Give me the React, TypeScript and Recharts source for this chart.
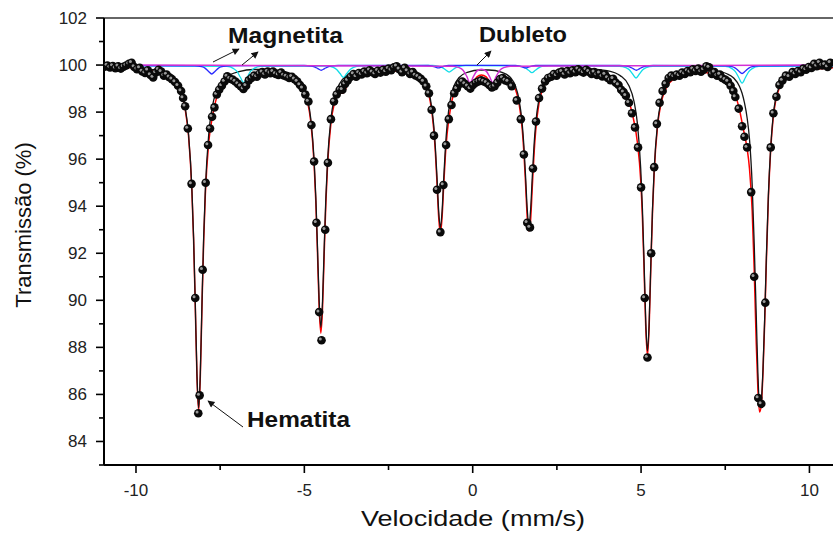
import React from 'react';
import { ComposedChart, Line, Scatter, XAxis, YAxis, ReferenceLine } from 'recharts';

const velocityDomain: [number, number] = [-10.95, 10.7];
const transmissionDomain: [number, number] = [83, 102];
const velocityTicks = [-10, -7.5, -5, -2.5, 0, 2.5, 5, 7.5, 10];
const transmissionTicks = [83, 84, 85, 86, 87, 88, 89, 90, 91, 92, 93, 94, 95, 96, 97, 98, 99, 100, 101, 102];

// experimental points [velocity mm/s, transmission %]
const measured: [number, number][] = [
  [-10.93, 99.93], [-10.85, 99.98], [-10.77, 99.9], [-10.69, 99.96], [-10.61, 99.87], [-10.53, 99.95],
  [-10.45, 99.85], [-10.37, 99.93], [-10.29, 99.98], [-10.21, 100.05], [-10.13, 100.1], [-10.05, 99.92],
  [-9.97, 99.82], [-9.89, 99.88], [-9.81, 99.73], [-9.73, 99.66], [-9.65, 99.78], [-9.57, 99.58],
  [-9.49, 99.47], [-9.41, 99.68], [-9.33, 99.8], [-9.25, 99.72], [-9.17, 99.55], [-9.09, 99.6],
  [-9.01, 99.48], [-8.93, 99.4], [-8.84, 99.28], [-8.75, 99.12], [-8.66, 98.9], [-8.6, 98.6],
  [-8.54, 98.25], [-8.46, 97.3], [-8.35, 94.95], [-8.24, 90.1], [-8.15, 85.2], [-8.11, 85.96],
  [-8.02, 91.3], [-7.93, 95.0], [-7.86, 96.6], [-7.8, 97.3], [-7.74, 97.8], [-7.67, 98.2],
  [-7.6, 98.75], [-7.53, 98.95], [-7.45, 99.12], [-7.37, 99.3], [-7.29, 99.52], [-7.21, 99.42],
  [-7.13, 99.38], [-7.05, 99.3], [-6.97, 99.2], [-6.89, 99.1], [-6.81, 98.98], [-6.73, 99.12],
  [-6.65, 99.35], [-6.57, 99.45], [-6.49, 99.55], [-6.41, 99.5], [-6.33, 99.63], [-6.25, 99.7],
  [-6.17, 99.6], [-6.09, 99.72], [-6.01, 99.65], [-5.93, 99.72], [-5.85, 99.62], [-5.77, 99.58],
  [-5.69, 99.68], [-5.61, 99.56], [-5.53, 99.52], [-5.45, 99.45], [-5.37, 99.5], [-5.29, 99.4],
  [-5.21, 99.3], [-5.13, 99.15], [-5.05, 99.02], [-4.97, 98.75], [-4.88, 98.45], [-4.79, 97.45],
  [-4.71, 95.9], [-4.64, 93.3], [-4.56, 89.5], [-4.49, 88.3], [-4.38, 93.0], [-4.3, 95.85],
  [-4.21, 97.7], [-4.12, 98.45], [-4.04, 98.75], [-3.95, 98.95], [-3.87, 98.95], [-3.79, 99.2],
  [-3.71, 99.35], [-3.62, 99.5], [-3.54, 99.62], [-3.46, 99.5], [-3.38, 99.66], [-3.3, 99.6],
  [-3.22, 99.72], [-3.14, 99.65], [-3.06, 99.78], [-2.98, 99.7], [-2.9, 99.62], [-2.82, 99.76],
  [-2.74, 99.68], [-2.66, 99.8], [-2.58, 99.72], [-2.5, 99.85], [-2.42, 99.78], [-2.34, 99.9],
  [-2.26, 99.95], [-2.18, 99.82], [-2.1, 99.7], [-2.02, 99.88], [-1.94, 99.75], [-1.86, 99.62],
  [-1.78, 99.7], [-1.7, 99.56], [-1.62, 99.5], [-1.54, 99.42], [-1.46, 99.3], [-1.38, 99.1],
  [-1.3, 98.8], [-1.22, 98.1], [-1.15, 97.0], [-1.06, 94.7], [-0.96, 92.9], [-0.87, 94.9],
  [-0.79, 96.6], [-0.71, 97.7], [-0.63, 98.3], [-0.55, 98.8], [-0.47, 99.0], [-0.39, 99.2],
  [-0.31, 99.3], [-0.23, 99.2], [-0.15, 99.1], [-0.07, 99.0], [0.01, 99.15], [0.09, 99.25],
  [0.17, 99.3], [0.25, 99.35], [0.33, 99.3], [0.41, 99.25], [0.49, 99.15], [0.57, 99.05],
  [0.65, 99.1], [0.73, 99.25], [0.81, 99.4], [0.89, 99.45], [0.97, 99.35], [1.05, 99.3],
  [1.16, 99.1], [1.31, 98.5], [1.43, 97.7], [1.52, 96.2], [1.62, 93.3], [1.7, 93.1],
  [1.79, 95.6], [1.88, 97.6], [1.97, 98.6], [2.06, 99.0], [2.15, 99.3], [2.24, 99.45],
  [2.33, 99.5], [2.41, 99.62], [2.49, 99.55], [2.57, 99.68], [2.65, 99.72], [2.73, 99.6],
  [2.81, 99.75], [2.89, 99.65], [2.97, 99.78], [3.05, 99.7], [3.13, 99.82], [3.21, 99.74],
  [3.29, 99.68], [3.37, 99.8], [3.45, 99.72], [3.53, 99.62], [3.61, 99.7], [3.69, 99.58],
  [3.77, 99.65], [3.85, 99.52], [3.93, 99.6], [4.01, 99.45], [4.09, 99.36], [4.17, 99.42],
  [4.25, 99.25], [4.33, 99.15], [4.41, 98.95], [4.48, 98.85], [4.55, 98.7], [4.64, 98.4],
  [4.73, 97.95], [4.82, 97.35], [4.91, 96.5], [5.0, 94.8], [5.11, 90.1], [5.19, 87.57],
  [5.3, 92.0], [5.39, 95.66], [5.47, 97.5], [5.55, 98.4], [5.64, 98.9], [5.73, 99.2],
  [5.82, 99.45], [5.9, 99.55], [5.98, 99.5], [6.06, 99.6], [6.14, 99.55], [6.22, 99.68],
  [6.3, 99.62], [6.38, 99.75], [6.46, 99.7], [6.54, 99.82], [6.62, 99.75], [6.7, 99.85],
  [6.78, 99.72], [6.86, 99.8], [6.94, 99.95], [7.02, 99.9], [7.1, 99.62], [7.18, 99.7],
  [7.26, 99.55], [7.34, 99.6], [7.41, 99.45], [7.5, 99.38], [7.58, 99.3], [7.66, 99.12],
  [7.74, 98.9], [7.8, 98.64], [7.9, 98.15], [8.0, 97.4], [8.07, 96.95], [8.15, 96.5],
  [8.27, 94.6], [8.36, 91.0], [8.48, 85.85], [8.57, 85.6], [8.69, 89.9], [8.85, 96.5],
  [8.93, 97.95], [9.02, 98.65], [9.11, 99.15], [9.2, 99.35], [9.3, 99.55], [9.4, 99.5],
  [9.5, 99.7], [9.58, 99.62], [9.66, 99.75], [9.74, 99.7], [9.82, 99.85], [9.9, 99.8],
  [9.98, 99.92], [10.06, 99.88], [10.14, 100.05], [10.22, 99.95], [10.3, 100.1], [10.38, 99.98],
  [10.46, 100.02], [10.54, 99.92], [10.62, 100.1],
];

// hematite sextet subspectrum (black)
const hematiteFit: [number, number][] = [
  [-10.95, 99.95], [-10.5, 99.93], [-10.0, 99.89], [-9.5, 99.81], [-9.34, 99.76], [-8.94, 99.49],
  [-8.69, 98.97], [-8.54, 98.19], [-8.44, 97.07], [-8.34, 94.74], [-8.29, 92.7], [-8.24, 89.91],
  [-8.19, 86.88], [-8.14, 85.42], [-8.09, 86.87], [-8.04, 89.9], [-7.99, 92.69], [-7.94, 94.73],
  [-7.84, 97.06], [-7.74, 98.18], [-7.59, 98.96], [-7.34, 99.46], [-6.94, 99.72], [-6.5, 99.81],
  [-6.0, 99.81], [-5.71, 99.76], [-5.31, 99.57], [-5.06, 99.19], [-4.91, 98.59], [-4.81, 97.73],
  [-4.71, 95.96], [-4.66, 94.41], [-4.61, 92.27], [-4.56, 89.97], [-4.51, 88.85], [-4.46, 89.97],
  [-4.41, 92.27], [-4.36, 94.41], [-4.31, 95.96], [-4.21, 97.73], [-4.11, 98.59], [-3.96, 99.19],
  [-3.71, 99.58], [-3.31, 99.78], [-2.8, 99.85], [-2.16, 99.82], [-1.76, 99.71], [-1.51, 99.47],
  [-1.36, 99.1], [-1.26, 98.58], [-1.16, 97.48], [-1.11, 96.52], [-1.06, 95.21], [-1.01, 93.78],
  [-0.96, 93.09], [-0.91, 93.78], [-0.86, 95.2], [-0.81, 96.51], [-0.76, 97.47], [-0.66, 98.57],
  [-0.56, 99.1], [-0.41, 99.46], [-0.16, 99.69], [0.24, 99.79], [0.47, 99.79], [0.87, 99.69],
  [1.12, 99.47], [1.27, 99.1], [1.37, 98.58], [1.47, 97.5], [1.52, 96.56], [1.57, 95.26],
  [1.62, 93.86], [1.67, 93.18], [1.72, 93.86], [1.77, 95.26], [1.82, 96.56], [1.87, 97.5],
  [1.97, 98.58], [2.07, 99.11], [2.22, 99.47], [2.47, 99.7], [2.87, 99.81], [3.4, 99.84],
  [3.99, 99.76], [4.39, 99.54], [4.64, 99.12], [4.79, 98.46], [4.89, 97.53], [4.99, 95.59],
  [5.04, 93.9], [5.09, 91.58], [5.14, 89.06], [5.19, 87.85], [5.24, 89.06], [5.29, 91.58],
  [5.34, 93.9], [5.39, 95.59], [5.49, 97.53], [5.59, 98.46], [5.74, 99.11], [5.99, 99.53],
  [6.39, 99.73], [6.87, 99.78], [7.35, 99.71], [7.55, 99.63], [7.75, 99.45], [7.92, 99.1],
  [8.0, 98.8], [8.07, 98.4], [8.15, 97.75], [8.22, 96.85], [8.3, 94.9], [8.36, 92.4],
  [8.42, 89.4], [8.47, 86.9], [8.52, 85.5], [8.57, 85.75], [8.62, 87.05], [8.67, 89.2],
  [8.72, 91.8], [8.78, 94.45], [8.85, 96.5], [8.92, 97.8], [9.0, 98.6], [9.1, 99.05],
  [9.25, 99.4], [9.45, 99.6], [9.75, 99.76], [10.2, 99.87], [10.7, 99.92],
];

// total fit (red)
const totalFit: [number, number][] = [
  [-10.95, 99.95], [-10.5, 99.92], [-10.0, 99.87], [-9.5, 99.78], [-9.34, 99.72], [-8.94, 99.43],
  [-8.69, 98.91], [-8.54, 98.12], [-8.44, 97.0], [-8.34, 94.66], [-8.29, 92.62], [-8.24, 89.82],
  [-8.19, 86.78], [-8.14, 85.29], [-8.09, 86.74], [-8.04, 89.75], [-7.99, 92.51], [-7.94, 94.51],
  [-7.84, 96.71], [-7.74, 97.72], [-7.59, 98.69], [-7.45, 99.13], [-7.34, 99.29], [-7.2, 99.41],
  [-7.0, 99.35], [-6.9, 99.14], [-6.8, 98.93], [-6.7, 99.18], [-6.6, 99.45], [-6.5, 99.59],
  [-6.3, 99.69], [-6.0, 99.7], [-5.71, 99.66], [-5.31, 99.47], [-5.06, 99.08], [-4.91, 98.47],
  [-4.81, 97.6], [-4.71, 95.79], [-4.66, 94.21], [-4.61, 92.03], [-4.56, 89.68], [-4.51, 88.6],
  [-4.46, 89.66], [-4.41, 92.0], [-4.36, 94.17], [-4.31, 95.75], [-4.21, 97.53], [-4.11, 98.36],
  [-3.96, 98.78], [-3.84, 98.82], [-3.71, 99.2], [-3.6, 99.43], [-3.45, 99.58], [-3.31, 99.66],
  [-3.0, 99.73], [-2.5, 99.76], [-2.16, 99.73], [-1.76, 99.62], [-1.51, 99.37], [-1.36, 98.99],
  [-1.26, 98.45], [-1.16, 97.31], [-1.11, 96.32], [-1.06, 94.97], [-1.01, 93.52], [-0.96, 92.83],
  [-0.91, 93.52], [-0.86, 94.92], [-0.81, 96.19], [-0.76, 97.08], [-0.66, 98.16], [-0.56, 98.82],
  [-0.41, 99.25], [-0.3, 99.35], [-0.2, 99.23], [-0.08, 98.95], [0.02, 99.24], [0.12, 99.49],
  [0.26, 99.58], [0.4, 99.5], [0.5, 99.28], [0.6, 99.0], [0.7, 99.26], [0.8, 99.46],
  [0.92, 99.5], [1.12, 99.34], [1.27, 98.96], [1.37, 98.42], [1.47, 97.28], [1.52, 96.29],
  [1.57, 94.95], [1.62, 93.51], [1.67, 92.95], [1.72, 93.43], [1.77, 94.83], [1.82, 96.18],
  [1.87, 97.2], [1.97, 98.39], [2.07, 98.97], [2.22, 99.35], [2.47, 99.6], [2.87, 99.72],
  [3.4, 99.74], [3.99, 99.58], [4.2, 99.4], [4.39, 99.12], [4.55, 98.75], [4.64, 98.45],
  [4.72, 98.05], [4.79, 97.6], [4.89, 96.72], [4.99, 95.09], [5.04, 93.52], [5.09, 91.28],
  [5.14, 88.81], [5.19, 87.64], [5.24, 88.88], [5.29, 91.42], [5.34, 93.75], [5.39, 95.45],
  [5.49, 97.41], [5.59, 98.35], [5.74, 99.01], [5.99, 99.43], [6.39, 99.63], [6.87, 99.68],
  [7.35, 99.57], [7.55, 99.38], [7.65, 99.18], [7.75, 98.92], [7.85, 98.5], [7.92, 98.12],
  [8.0, 97.55], [8.07, 97.05], [8.15, 96.45], [8.22, 95.6], [8.3, 93.8], [8.36, 91.3],
  [8.42, 88.2], [8.47, 86.2], [8.52, 85.25], [8.57, 85.55], [8.62, 86.9], [8.67, 89.0],
  [8.72, 91.6], [8.78, 94.3], [8.85, 96.4], [8.92, 97.7], [9.0, 98.5], [9.1, 99.0],
  [9.25, 99.35], [9.45, 99.55], [9.75, 99.7], [10.2, 99.83], [10.7, 99.89],
];

// magnetite sextet, site A (blue)
const magnetitaA: [number, number][] = [
  [-10.95, 99.98], [-8.25, 99.97], [-8.05, 99.93], [-7.95, 99.87], [-7.85, 99.74], [-7.75, 99.62],
  [-7.65, 99.74], [-7.55, 99.87], [-7.45, 99.93], [-7.25, 99.97], [-5.0, 99.98], [-4.8, 99.96],
  [-4.7, 99.92], [-4.6, 99.85], [-4.5, 99.78], [-4.4, 99.85], [-4.3, 99.92], [-4.2, 99.96],
  [-4.0, 99.98], [-1.52, 99.99], [-1.32, 99.98], [-1.22, 99.96], [-1.12, 99.92], [-1.02, 99.88],
  [-0.92, 99.92], [-0.82, 99.96], [-0.72, 99.98], [-0.52, 99.99], [1.07, 99.99], [1.27, 99.98],
  [1.37, 99.96], [1.47, 99.92], [1.57, 99.88], [1.67, 99.92], [1.77, 99.96], [1.87, 99.98],
  [2.07, 99.99], [4.36, 99.98], [4.56, 99.96], [4.66, 99.92], [4.76, 99.85], [4.86, 99.78],
  [4.96, 99.85], [5.06, 99.92], [5.16, 99.96], [5.36, 99.98], [7.5, 99.97], [7.7, 99.93],
  [7.8, 99.87], [7.9, 99.75], [8.0, 99.64], [8.1, 99.75], [8.2, 99.87], [8.3, 99.93],
  [8.5, 99.97], [10.7, 99.98],
];

// magnetite sextet, site B (cyan)
const magnetitaB: [number, number][] = [
  [-10.95, 99.97], [-7.3, 99.94], [-7.1, 99.85], [-7.0, 99.73], [-6.9, 99.48], [-6.8, 99.25],
  [-6.7, 99.48], [-6.6, 99.73], [-6.5, 99.85], [-6.3, 99.94], [-4.34, 99.96], [-4.14, 99.9],
  [-4.04, 99.81], [-3.94, 99.64], [-3.84, 99.48], [-3.74, 99.64], [-3.64, 99.81], [-3.54, 99.9],
  [-3.34, 99.96], [-1.2, 99.98], [-1.0, 99.94], [-0.9, 99.89], [-0.8, 99.79], [-0.7, 99.7],
  [-0.6, 99.79], [-0.5, 99.89], [-0.4, 99.94], [-0.2, 99.98], [1.26, 99.97], [1.46, 99.94],
  [1.56, 99.88], [1.66, 99.78], [1.76, 99.68], [1.86, 99.78], [1.96, 99.88], [2.06, 99.94],
  [2.26, 99.97], [4.35, 99.95], [4.55, 99.89], [4.65, 99.8], [4.75, 99.62], [4.85, 99.45],
  [4.95, 99.62], [5.05, 99.8], [5.15, 99.89], [5.35, 99.95], [7.5, 99.94], [7.7, 99.85],
  [7.8, 99.72], [7.9, 99.47], [8.0, 99.23], [8.1, 99.47], [8.2, 99.72], [8.3, 99.85],
  [8.5, 99.94], [10.7, 99.97],
];

// doublet (magenta)
const dubleto: [number, number][] = [
  [-10.95, 100.0], [-0.6, 99.95], [-0.4, 99.89], [-0.28, 99.77], [-0.18, 99.53], [-0.08, 99.25],
  [0.02, 99.51], [0.12, 99.74], [0.26, 99.82], [0.4, 99.74], [0.5, 99.51], [0.6, 99.25],
  [0.7, 99.53], [0.8, 99.77], [0.92, 99.89], [1.12, 99.95], [10.7, 100.0],
];

const rows = (arr: [number, number][]) => arr.map(([v, t]) => ({ v, t }));

const FONT = '"Liberation Sans", Arial, Helvetica, sans-serif';

const XTick = (props: any) => {
  const { x, y, payload } = props;
  const val = payload.value as number;
  const major = Number.isInteger(val) && val % 5 === 0;
  return (
    <g>
      <line x1={x} x2={x} y1={y} y2={y + (major ? 8 : 5)} stroke="#000" strokeWidth={1.6} />
      {major && (
        <text x={x} y={y + 31} textAnchor="middle" fontSize={17} fill="#222" fontFamily={FONT}>
          {String(val)}
        </text>
      )}
    </g>
  );
};

const YTick = (props: any) => {
  const { x, y, payload } = props;
  const val = payload.value as number;
  const major = val % 2 === 0;
  return (
    <g>
      <line x1={x - (major ? 8 : 5)} x2={x} y1={y} y2={y} stroke="#000" strokeWidth={1.6} />
      {major && (
        <text x={x - 17} y={y + 6} textAnchor="end" fontSize={17} fill="#222" fontFamily={FONT}>
          {String(val)}
        </text>
      )}
    </g>
  );
};

const Ball = (props: any) => {
  const { cx, cy } = props;
  if (cx == null || cy == null) return null;
  return (
    <g>
      <circle cx={cx} cy={cy} r={4.3} fill="#0a0a0a" />
      <circle cx={cx - 1.2} cy={cy - 1.2} r={1.5} fill="#9a9a9a" />
    </g>
  );
};

export default function App() {
  return (
    <div style={{ position: 'absolute', left: 0, top: 0, width: 833, height: 536, background: '#fff' }}>
      <ComposedChart width={833} height={536} margin={{ top: 18, right: 0, bottom: 0, left: 0 }}>
        <XAxis
          type="number"
          dataKey="v"
          domain={velocityDomain}
          allowDataOverflow
          ticks={velocityTicks}
          interval={0}
          tick={<XTick />}
          tickLine={false}
          tickSize={0}
          tickMargin={0}
          axisLine={{ stroke: '#000', strokeWidth: 2 }}
          height={71}
        />
        <YAxis
          type="number"
          dataKey="t"
          domain={transmissionDomain}
          allowDataOverflow
          ticks={transmissionTicks}
          interval={0}
          tick={<YTick />}
          tickLine={false}
          tickSize={0}
          tickMargin={0}
          axisLine={{ stroke: '#000', strokeWidth: 2 }}
          width={104}
        />
        <ReferenceLine y={102} stroke="#333" strokeWidth={1.5} />
        <Scatter data={rows(measured)} dataKey="t" shape={(p: any) => <Ball {...p} />} isAnimationActive={false} />
        <Line data={rows(totalFit)} dataKey="t" type="monotone" stroke="#ff0000" strokeWidth={1.5} dot={false} activeDot={false} isAnimationActive={false} />
        <Line data={rows(hematiteFit)} dataKey="t" type="monotone" stroke="#151515" strokeWidth={1.3} dot={false} activeDot={false} isAnimationActive={false} />
        <Line data={rows(magnetitaB)} dataKey="t" type="monotone" stroke="#11dde8" strokeWidth={1.3} dot={false} activeDot={false} isAnimationActive={false} />
        <Line data={rows(magnetitaA)} dataKey="t" type="monotone" stroke="#2b2bff" strokeWidth={1.3} dot={false} activeDot={false} isAnimationActive={false} />
        <Line data={rows(dubleto)} dataKey="t" type="monotone" stroke="#d42fd4" strokeWidth={1.4} dot={false} activeDot={false} isAnimationActive={false} />
      </ComposedChart>
      <svg width={833} height={536} style={{ position: 'absolute', left: 0, top: 0, pointerEvents: 'none' }}>
        <defs>
          <marker id="arrowHead" viewBox="0 0 10 10" refX="9" refY="5" markerWidth="9" markerHeight="7" markerUnits="userSpaceOnUse" orient="auto">
            <path d="M0,0 L10,5 L0,10 z" fill="#111" />
          </marker>
        </defs>
        <text x={228} y={43} fontSize={22} fontWeight="bold" fill="#111" fontFamily={FONT} textLength={115} lengthAdjust="spacingAndGlyphs">Magnetita</text>
        <text x={479} y={42} fontSize={22} fontWeight="bold" fill="#111" fontFamily={FONT} textLength={88} lengthAdjust="spacingAndGlyphs">Dubleto</text>
        <text x={247} y={427} fontSize={22} fontWeight="bold" fill="#111" fontFamily={FONT} textLength={103} lengthAdjust="spacingAndGlyphs">Hematita</text>
        <line x1={213} y1={62} x2={239} y2={49} stroke="#111" strokeWidth={1} markerEnd="url(#arrowHead)" />
        <line x1={242} y1={65} x2={258} y2={52} stroke="#111" strokeWidth={1} markerEnd="url(#arrowHead)" />
        <line x1={477} y1={65} x2={491} y2={51} stroke="#111" strokeWidth={1} markerEnd="url(#arrowHead)" />
        <line x1={243} y1={427} x2={208} y2={401} stroke="#111" strokeWidth={1} markerEnd="url(#arrowHead)" />
        <text x={473} y={526} textAnchor="middle" fontSize={22} fill="#111" fontFamily={FONT} textLength={224} lengthAdjust="spacingAndGlyphs">Velocidade (mm/s)</text>
        <text x={31} y={225} textAnchor="middle" fontSize={22} fill="#111" fontFamily={FONT} transform="rotate(-90 31 225)">Transmissão (%)</text>
      </svg>
    </div>
  );
}
